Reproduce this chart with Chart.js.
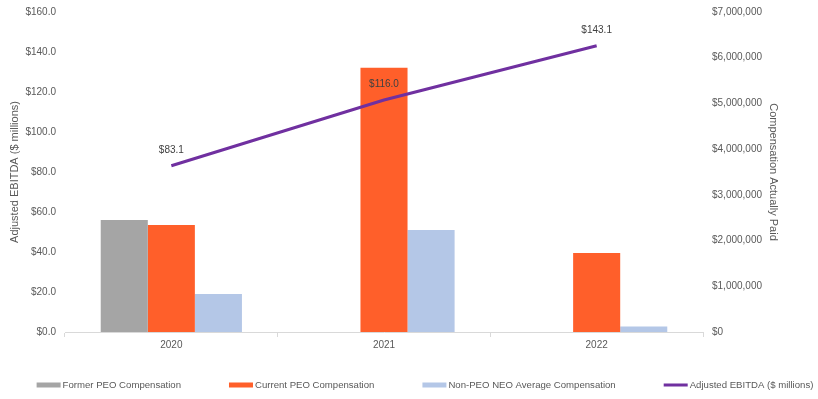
<!DOCTYPE html>
<html>
<head>
<meta charset="utf-8">
<script src="https://cdn.jsdelivr.net/npm/chart.js@4"></script>
<style>
html,body{margin:0;padding:0;background:#fff;}
#wrap{width:818px;height:399px;}
</style>
</head>
<body>
<div id="wrap"><canvas id="c" width="818" height="399"></canvas></div>
<script>
const years = ['2020', '2021', '2022'];
const formerPEO = [2450000, null, null];
const currentPEO = [2340000, 5780000, 1730000];
const nonPEO = [830000, 2230000, 120000];
const ebitda = [83.1, 116.0, 143.1];
const ebitdaLabels = ['$83.1', '$116.0', '$143.1'];

const FONT = "'Liberation Sans', Arial, sans-serif";
const TXT = '#595959';

const lineLabels = {
  id: 'lineLabels',
  afterDatasetsDraw(chart) {
    const meta = chart.getDatasetMeta(3);
    const ctx = chart.ctx;
    ctx.save();
    ctx.font = '10px ' + FONT;
    ctx.fillStyle = '#404040';
    ctx.textAlign = 'center';
    ctx.textBaseline = 'middle';
    meta.data.forEach((pt, i) => {
      ctx.fillText(ebitdaLabels[i], pt.x, pt.y - 16);
    });
    ctx.restore();
  }
};

const bottomLegend = {
  id: 'bottomLegend',
  afterDraw(chart) {
    const ctx = chart.ctx;
    ctx.save();
    ctx.font = '9.6px ' + FONT;
    ctx.textBaseline = 'middle';
    ctx.textAlign = 'left';
    const items = chart.data.datasets.map(d => ({
      text: d.label,
      color: d.type === 'line' ? d.borderColor : d.backgroundColor,
      line: d.type === 'line'
    }));
    const boxW = 24, gap = 2, sep = 48;
    const widths = items.map(it => boxW + gap + ctx.measureText(it.text).width);
    const total = widths.reduce((a, b) => a + b, 0) + sep * (items.length - 1);
    let x = (chart.width - total) / 2 + 16;
    const y = 385;
    items.forEach((it, i) => {
      ctx.fillStyle = it.color;
      if (it.line) ctx.fillRect(x, y - 1.5, boxW, 3);
      else ctx.fillRect(x, y - 2.5, boxW, 5);
      ctx.fillStyle = TXT;
      ctx.fillText(it.text, x + boxW + gap, y);
      x += widths[i] + sep;
    });
    ctx.restore();
  }
};

new Chart(document.getElementById('c'), {
  type: 'bar',
  data: {
    labels: years,
    datasets: [
      { label: 'Former PEO Compensation', data: formerPEO, backgroundColor: '#A5A5A5', yAxisID: 'y1', order: 2 },
      { label: 'Current PEO Compensation', data: currentPEO, backgroundColor: '#FF5F2A', yAxisID: 'y1', order: 2 },
      { label: 'Non-PEO NEO Average Compensation', data: nonPEO, backgroundColor: '#B4C7E7', yAxisID: 'y1', order: 2 },
      { type: 'line', label: 'Adjusted EBITDA ($ millions)', data: ebitda, borderColor: '#7030A0', backgroundColor: '#7030A0', borderWidth: 3, pointRadius: 0, yAxisID: 'y', order: 0, tension: 0 }
    ]
  },
  options: {
    responsive: false,
    animation: false,
    layout: { padding: { top: 12, right: 0, left: 0, bottom: 39 } },
    datasets: { bar: { categoryPercentage: 0.664, barPercentage: 1.0 } },
    plugins: {
      legend: { display: false },
      tooltip: { enabled: false }
    },
    scales: {
      x: {
        grid: { display: true, offset: true, drawOnChartArea: false, color: '#D9D9D9', tickLength: 5 },
        border: { display: true, color: '#D9D9D9' },
        ticks: { color: TXT, font: { family: FONT, size: 10 }, padding: 2 },
        afterFit(s) { s.height = 28; }
      },
      y: {
        position: 'left',
        min: 0, max: 160,
        ticks: { stepSize: 20, color: TXT, font: { family: FONT, size: 10 }, padding: 1,
          callback: v => '$' + Number(v).toFixed(1) },
        grid: { display: false },
        border: { display: false },
        title: { display: true, text: 'Adjusted EBITDA ($ millions)', color: TXT, font: { family: FONT, size: 11 }, padding: { top: 8, bottom: 0 } },
        afterFit(s) { s.width = 65; }
      },
      y1: {
        position: 'right',
        min: 0, max: 7000000,
        ticks: { stepSize: 1000000, color: TXT, font: { family: FONT, size: 10 }, padding: 1,
          callback: v => '$' + Number(v).toLocaleString('en-US') },
        grid: { display: false },
        border: { display: false },
        title: { display: true, text: 'Compensation Actually Paid', color: TXT, font: { family: FONT, size: 11 }, padding: { top: 38, bottom: 0 } },
        afterFit(s) { s.width = 115; }
      }
    }
  },
  plugins: [lineLabels, bottomLegend]
});
</script>
</body>
</html>
